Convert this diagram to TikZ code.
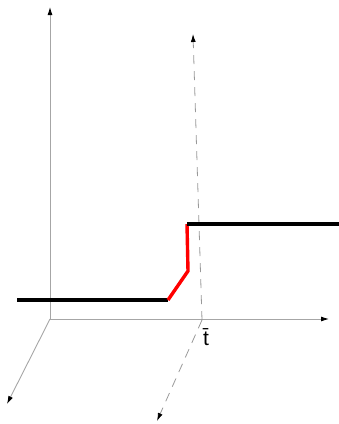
\documentclass[tikz,border=0pt]{standalone}
\usepackage{fontspec}
\setmainfont{Liberation Sans}
\usetikzlibrary{arrows.meta}
\begin{document}
\begin{tikzpicture}[x=1pt,y=-1pt,
  axis/.style={draw=gray!70, line width=0.9pt, -{Latex[length=8pt,width=5pt,color=black,fill=black]}},
  dashaxis/.style={draw=gray!80, line width=0.8pt, dash pattern=on 9pt off 7pt, -{Latex[length=8pt,width=5pt,color=black,fill=black]}},
  blackseg/.style={line width=3.8pt, black},
  redseg/.style={line width=3.4pt, red, line join=miter}]
\useasboundingbox (0,0) rectangle (339,424);
\coordinate (O) at (50,319);
\coordinate (ytip) at (50,7);
\coordinate (xtip) at (329,319);
\coordinate (ztip) at (7,404);
\coordinate (T) at (202,320);
\coordinate (ttop) at (193,34);
\coordinate (tbot) at (157,421);
\coordinate (a) at (17,300);
\coordinate (b) at (168,300);
\coordinate (c) at (188,271);
\coordinate (d) at (187,224);
\coordinate (e) at (339,224);
\draw[axis] (O) -- (ytip);
\draw[axis] (O) -- (xtip);
\draw[axis] (O) -- (ztip);
\draw[dashaxis] (T) -- (ttop);
\draw[dashaxis] (T) -- (tbot);
\draw[blackseg] (a) -- (b);
\draw[redseg] (b) -- (c) -- (d);
\draw[blackseg] (d) -- (e);
\node[font=\fontsize{21}{24}\selectfont, inner sep=0pt] (tl) at (206,337) {t̄};
\end{tikzpicture}
\end{document}
